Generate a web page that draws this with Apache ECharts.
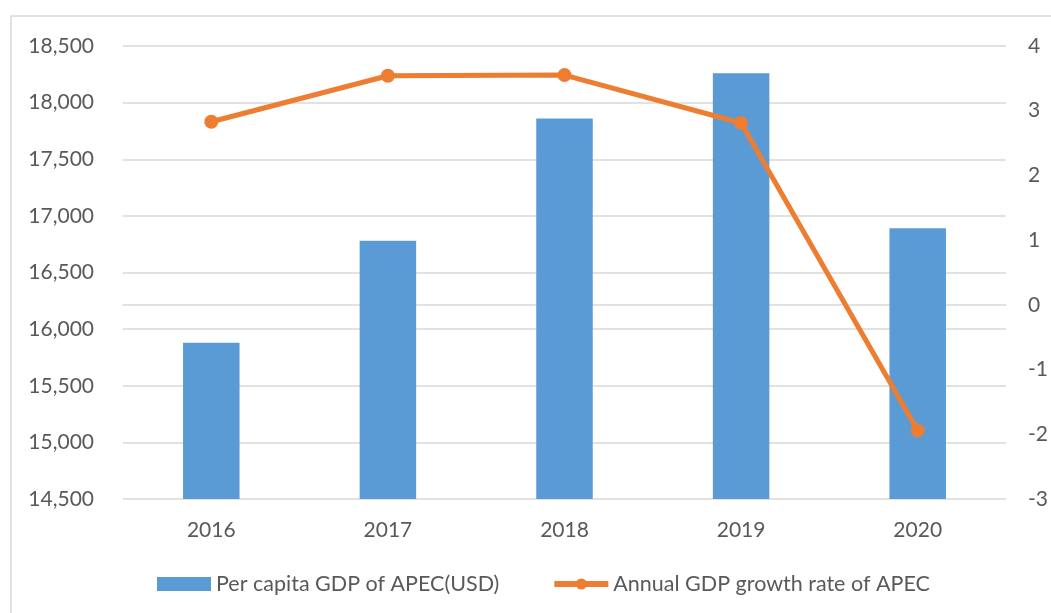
<!DOCTYPE html>
<html>
<head>
<meta charset="utf-8">
<script src="https://cdn.jsdelivr.net/npm/echarts@6/dist/echarts.min.js"></script>
<style>
  html, body { margin: 0; padding: 0; background: #ffffff; }
  #chart { width: 1051px; height: 613px; }
</style>
</head>
<body>
<div id="chart"></div>
<script>
// Years on the category axis
const years = ['2016', '2017', '2018', '2019', '2020'];
// Per capita GDP of APEC, USD
const gdpPerCapita = [15880, 16780, 17860, 18260, 16890];
// Annual GDP growth rate of APEC, %
const growthRate = [2.83, 3.54, 3.55, 2.81, -1.94];

const textColor = '#595959';
const gridColor = '#D9D9D9';
const fontFamily = 'Lato, "Open Sans", sans-serif';

const chart = echarts.init(document.getElementById('chart'));
chart.setOption({
  backgroundColor: '#ffffff',
  textStyle: { fontFamily: fontFamily },
  graphic: [{
    type: 'rect',
    shape: { x: 11, y: 16, width: 1100, height: 700 },
    style: { fill: 'none', stroke: gridColor, lineWidth: 1.5 },
    silent: true
  }],
  grid: { left: 123, right: 45, top: 46, bottom: 114 },
  legend: {
    left: 157,
    top: 573,
    padding: 0,
    itemGap: 52,
    itemWidth: 54,
    itemHeight: 14,
    textStyle: { color: textColor, fontSize: 21.5, fontFamily: fontFamily },
    data: [
      { name: 'Per capita GDP of APEC(USD)', icon: 'rect' },
      { name: 'Annual GDP growth rate of APEC', lineStyle: { width: 6 } }
    ]
  },
  xAxis: {
    type: 'category',
    data: years,
    axisLine: { lineStyle: { color: gridColor, width: 1.5 } },
    axisTick: { show: false },
    axisLabel: { color: textColor, fontSize: 21, margin: 21 }
  },
  yAxis: [{
    type: 'value',
    min: 14500,
    max: 18500,
    interval: 500,
    axisLine: { show: false },
    axisTick: { show: false },
    splitLine: { lineStyle: { color: gridColor, width: 1.5 } },
    axisLabel: {
      color: textColor, fontSize: 21, margin: 29,
      formatter: v => v.toLocaleString('en-US')
    }
  }, {
    type: 'value',
    min: -3,
    max: 4,
    interval: 1,
    axisLine: { show: false },
    axisTick: { show: false },
    splitLine: { show: false },
    axisLabel: { color: textColor, fontSize: 21, margin: 22 }
  }],
  series: [{
    name: 'Per capita GDP of APEC(USD)',
    type: 'bar',
    data: gdpPerCapita,
    barWidth: '32%',
    itemStyle: { color: '#5B9BD5' }
  }, {
    name: 'Annual GDP growth rate of APEC',
    type: 'line',
    yAxisIndex: 1,
    data: growthRate,
    symbol: 'circle',
    symbolSize: 14,
    lineStyle: { color: '#ED7D31', width: 5 },
    itemStyle: { color: '#ED7D31' }
  }]
});
</script>
</body>
</html>
